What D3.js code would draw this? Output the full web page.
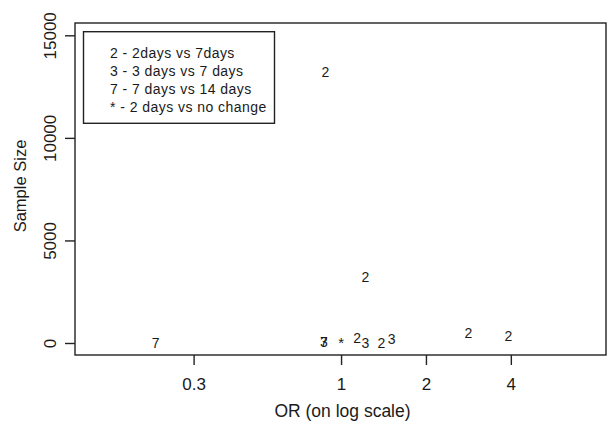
<!DOCTYPE html>
<html>
<head>
<meta charset="utf-8">
<script src="https://cdn.jsdelivr.net/npm/d3@7"></script>
<style>
  html, body { margin: 0; padding: 0; background: #fff; }
  svg { display: block; }
  text { font-family: "Liberation Sans", Arial, sans-serif; fill: #1a1a1a; }
</style>
</head>
<body>
<svg id="chart" width="607" height="425"></svg>
<script>
// ---- data ----
const pointLabels = ["2", "2", "3", "7", "*", "2", "3", "2", "3", "2", "2", "7"];
const oddsRatios  = [0.88, 1.22, 0.87, 0.87, 1.0, 1.14, 1.22, 1.39, 1.51, 2.83, 3.92, 0.22];
const sampleSizes = [13200, 3230, 60, 60, 15, 258, 10, 0, 195, 473, 341, 10];

const xTicks = [0.3, 1, 2, 4];
const xTickLabels = ["0.3", "1", "2", "4"];
const yTicks = [0, 5000, 10000, 15000];
const yTickLabels = ["0", "5000", "10000", "15000"];

const legendLines = [
  "2 - 2days vs 7days",
  "3 - 3 days vs 7 days",
  "7 - 7 days vs 14 days",
  "* - 2 days vs no change"
];
const xTitle = "OR (on log scale)";
const yTitle = "Sample Size";

// ---- layout ----
const plot = { left: 75, right: 606, top: 23, bottom: 355 };
const svg = d3.select("#chart");

const x = d3.scaleLog().domain([0.1139, 8.70]).range([plot.left, plot.right]);
const y = d3.scaleLinear().domain([-585, 15600]).range([plot.bottom, plot.top]);

// frame
svg.append("rect")
  .attr("x", plot.left).attr("y", plot.top)
  .attr("width", plot.right - plot.left).attr("height", plot.bottom - plot.top)
  .attr("fill", "none").attr("stroke", "#222").attr("stroke-width", 1.4);

// x axis
const xAxis = d3.axisBottom(x).tickValues(xTicks).tickSize(10).tickSizeOuter(0)
  .tickFormat((d, i) => xTickLabels[i]);
const gx = svg.append("g").attr("transform", `translate(0,${plot.bottom})`).call(xAxis);
gx.select(".domain").remove();
gx.selectAll(".tick line").attr("stroke", "#222").attr("stroke-width", 1.4);
gx.selectAll(".tick text").attr("font-size", 17).attr("fill", "#1a1a1a")
  .attr("font-family", "Liberation Sans, Arial, sans-serif")
  .attr("y", 0).attr("dy", 0)
  .attr("transform", "translate(0,34.5)");

// y axis
const yAxis = d3.axisLeft(y).tickValues(yTicks).tickSize(10).tickSizeOuter(0)
  .tickFormat((d, i) => yTickLabels[i]);
const gy = svg.append("g").attr("transform", `translate(${plot.left},0)`).call(yAxis);
gy.select(".domain").remove();
gy.selectAll(".tick line").attr("stroke", "#222").attr("stroke-width", 1.4);
gy.selectAll(".tick text").attr("font-size", 17).attr("fill", "#1a1a1a")
  .attr("font-family", "Liberation Sans, Arial, sans-serif")
  .attr("x", 0).attr("dy", 0)
  .attr("text-anchor", "middle")
  .attr("transform", "translate(-19,0) rotate(-90)");

// titles
svg.append("text").attr("x", (plot.left + plot.right) / 2 + 2).attr("y", 417)
  .attr("text-anchor", "middle").attr("font-size", 17.5).text(xTitle);
svg.append("text")
  .attr("transform", "translate(26,186) rotate(-90)")
  .attr("text-anchor", "middle").attr("font-size", 16.5).text(yTitle);

// points as text labels
svg.append("g").selectAll("text")
  .data(pointLabels.map((lab, i) => ({ lab, or: oddsRatios[i], n: sampleSizes[i] })))
  .join("text")
  .attr("x", d => x(d.or))
  .attr("y", d => y(d.n))
  .attr("dy", "0.36em")
  .attr("text-anchor", "middle")
  .attr("font-size", d => d.lab === "*" ? 15 : 14)
  .text(d => d.lab);

// legend
const lg = svg.append("g");
lg.append("rect").attr("x", 83.5).attr("y", 31.7).attr("width", 191).attr("height", 91.6)
  .attr("fill", "#fff").attr("stroke", "#222").attr("stroke-width", 1.4);
lg.selectAll("text.leg").data(legendLines).join("text").attr("class", "leg")
  .attr("x", 110).attr("y", (d, i) => 57.5 + i * 18)
  .attr("font-size", 14).attr("letter-spacing", 0.45)
  .text(d => d);
</script>
</body>
</html>
